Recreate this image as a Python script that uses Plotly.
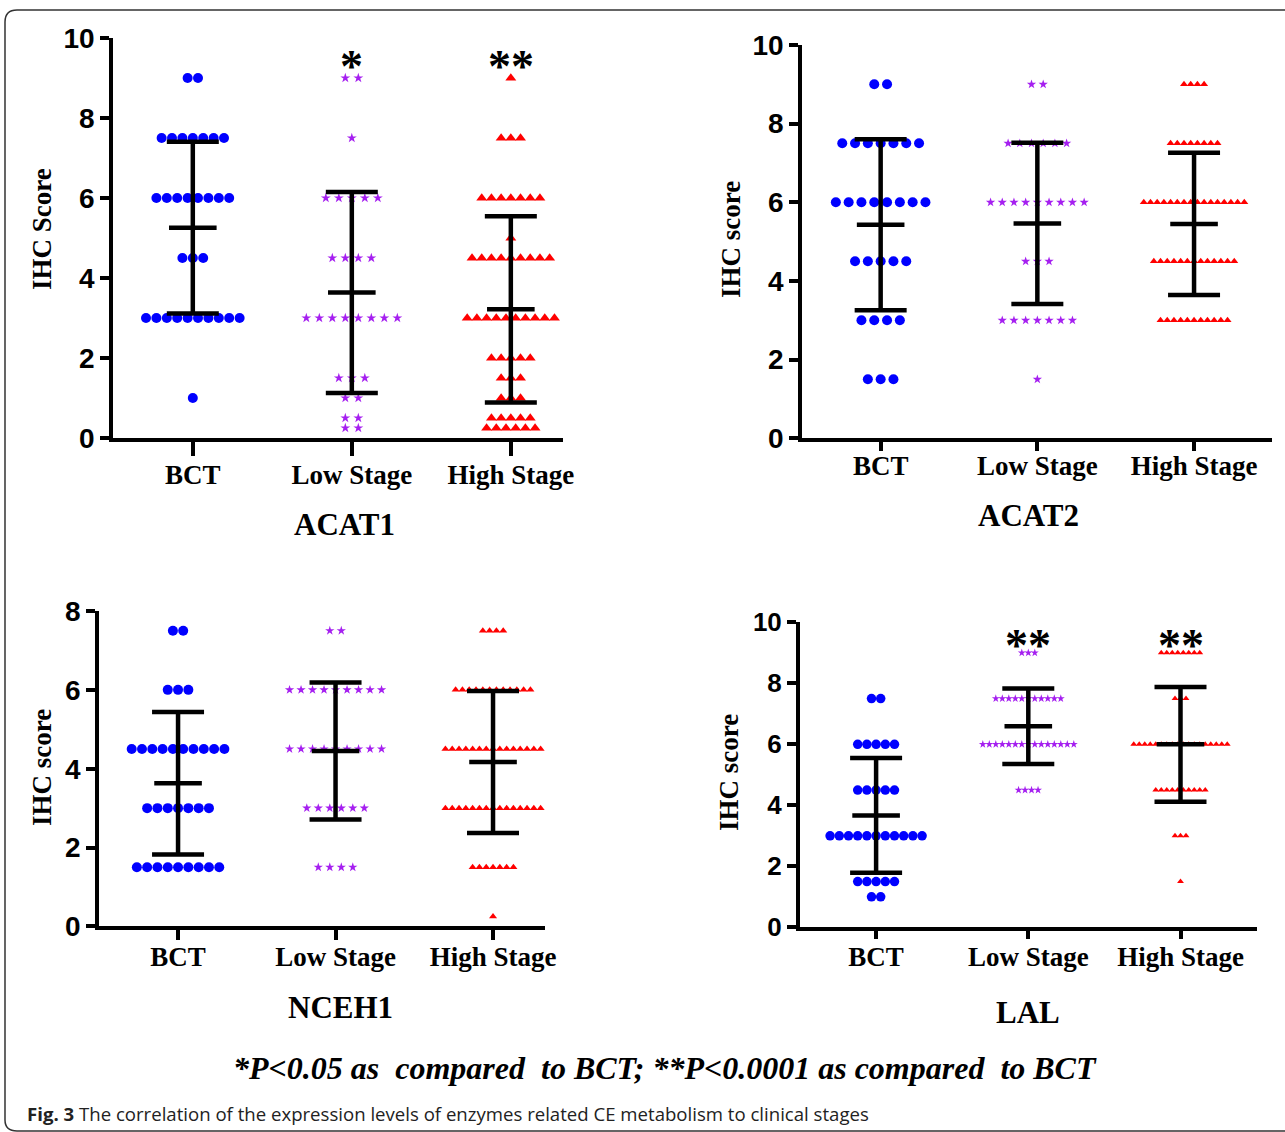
import numpy as np
import plotly.graph_objects as go

W, H = 1285, 1132
groups = ["BCT", "Low Stage", "High Stage"]

# IHC score levels and the number of cases observed at each level
acat1_bct_levels = [9, 7.5, 6, 4.5, 3, 1]
acat1_bct_counts = [2, 7, 8, 3, 10, 1]
acat1_low_levels = [9, 7.5, 6, 4.5, 3, 1.5, 1, 0.5, 0.25]
acat1_low_counts = [2, 1, 5, 4, 8, 3, 2, 2, 2]
acat1_high_levels = [9, 7.5, 6, 5, 4.5, 3, 2, 1.5, 1, 0.5, 0.25]
acat1_high_counts = [1, 3, 7, 1, 9, 10, 5, 3, 3, 5, 6]

acat2_bct_levels = [9, 7.5, 6, 4.5, 3, 1.5]
acat2_bct_counts = [2, 7, 8, 5, 4, 3]
acat2_low_levels = [9, 7.5, 6, 4.5, 3, 1.5]
acat2_low_counts = [2, 6, 9, 3, 7, 1]
acat2_high_levels = [9, 7.5, 6, 4.5, 3]
acat2_high_counts = [4, 8, 16, 13, 11]

nceh1_bct_levels = [7.5, 6, 4.5, 3, 1.5]
nceh1_bct_counts = [2, 3, 10, 7, 9]
nceh1_low_levels = [7.5, 6, 4.5, 3, 1.5]
nceh1_low_counts = [2, 9, 9, 6, 4]
nceh1_high_levels = [7.5, 6, 4.5, 3, 1.5, 0.25]
nceh1_high_counts = [4, 12, 15, 15, 7, 1]

lal_bct_levels = [7.5, 6, 4.5, 3, 1.5, 1]
lal_bct_counts = [2, 5, 5, 11, 5, 2]
lal_low_levels = [9, 7.5, 6, 4.5]
lal_low_counts = [3, 11, 15, 4]
lal_high_levels = [9, 7.5, 6, 4.5, 3, 1.5]
lal_high_counts = [8, 3, 18, 10, 3, 1]

acat1_marks = ["", "*", "**"]
acat2_marks = ["", "", ""]
nceh1_marks = ["", "", ""]
lal_marks = ["", "**", "**"]

footnote = "*P&lt;0.05 as\u00a0 compared\u00a0 to BCT; **P&lt;0.0001 as compared\u00a0 to BCT"
caption_bold = "Fig. 3"
caption_text = "The correlation of the expression levels of enzymes related CE metabolism to clinical stages"

BLUE, PURPLE, RED = "#0000FF", "#A51FF0", "#FF0000"
symbols = ["circle", "star", "triangle-up"]
colors = [BLUE, PURPLE, RED]

panels = [
    dict(name="ACAT1", data=[(acat1_bct_levels, acat1_bct_counts), (acat1_low_levels, acat1_low_counts),
                             (acat1_high_levels, acat1_high_counts)],
         marks=acat1_marks, xpx=(113.3, 563.3), ypx=(38, 438), xr=(-0.5, 2.33), yr=(0, 10),
         yticks=[0, 2, 4, 6, 8, 10], step=(10.4, 13.0, 9.7), msize=(10, 7.5, 9.5), tickfs=28,
         ylabel="IHC Score", ylabpos=(42, 229), title_pos=(344, 524), xticklen=14, cat_standoff=-4,
         star_y=67),
    dict(name="ACAT2", data=[(acat2_bct_levels, acat2_bct_counts), (acat2_low_levels, acat2_low_counts),
                             (acat2_high_levels, acat2_high_counts)],
         marks=acat2_marks, xpx=(802.3, 1272.4), ypx=(45, 438.3), xr=(-0.5, 2.5), yr=(0, 10),
         yticks=[0, 2, 4, 6, 8, 10], step=(12.8, 11.7, 6.7), msize=(10, 7, 7), tickfs=28,
         ylabel="IHC score", ylabpos=(731, 240), title_pos=(1028, 515), xticklen=9, cat_standoff=-9,
         star_y=None),
    dict(name="NCEH1", data=[(nceh1_bct_levels, nceh1_bct_counts), (nceh1_low_levels, nceh1_low_counts),
                             (nceh1_high_levels, nceh1_high_counts)],
         marks=nceh1_marks, xpx=(99.3, 545), ypx=(611, 926.4), xr=(-0.5, 2.33), yr=(0, 8),
         yticks=[0, 2, 4, 6, 8], step=(10.3, 11.5, 6.8), msize=(10, 7, 7), tickfs=28,
         ylabel="IHC score", ylabpos=(42, 768), title_pos=(340, 1007), xticklen=10, cat_standoff=-7,
         star_y=None),
    dict(name="LAL", data=[(lal_bct_levels, lal_bct_counts), (lal_low_levels, lal_low_counts),
                           (lal_high_levels, lal_high_counts)],
         marks=lal_marks, xpx=(800, 1256.6), ypx=(622.3, 927.3), xr=(-0.5, 2.5), yr=(0, 10),
         yticks=[0, 2, 4, 6, 8, 10], step=(9.2, 6.5, 5.5), msize=(9.5, 6, 6), tickfs=26,
         ylabel="IHC score", ylabpos=(729, 773), title_pos=(1028, 1012), xticklen=8, cat_standoff=-6,
         star_y=645),
]

SERIF = "Liberation Serif"
SANS = "Liberation Sans"

fig = go.Figure()
layout = dict(width=W, height=H, margin=dict(l=0, r=0, t=0, b=0, autoexpand=False),
              paper_bgcolor="white", plot_bgcolor="white", showlegend=False, template="none")
annotations = []

for i, p in enumerate(panels):
    k = "" if i == 0 else str(i + 1)
    xa, ya = "x" + k, "y" + k
    x0, x1 = p["xpx"]
    cat_px = (x1 - x0) / (p["xr"][1] - p["xr"][0])
    for g, (levels, counts) in enumerate(p["data"]):
        xs, ys = [], []
        for lv, n in zip(levels, counts):
            offs = (np.arange(n) - (n - 1) / 2) * p["step"][g] / cat_px
            xs.extend(list(g + offs))
            ys.extend([lv] * n)
        fig.add_trace(go.Scatter(x=xs, y=ys, mode="markers", xaxis=xa, yaxis=ya,
                                 marker=dict(symbol=symbols[g], size=p["msize"][g], color=colors[g],
                                             line=dict(width=0)),
                                 cliponaxis=False, hoverinfo="skip"))
    # mean +/- SD
    means, sds = [], []
    for levels, counts in p["data"]:
        vals = np.repeat(levels, counts)
        means.append(vals.mean())
        sds.append(vals.std(ddof=1))
    fig.add_trace(go.Scatter(x=[0, 1, 2], y=means, mode="markers", xaxis=xa, yaxis=ya,
                             marker=dict(symbol="line-ew", size=34, color="black",
                                         line=dict(width=4.5, color="black")),
                             error_y=dict(type="data", array=sds, symmetric=True, color="black",
                                          thickness=4.5, width=26),
                             cliponaxis=False, hoverinfo="skip"))
    y0, y1 = p["ypx"]
    layout["xaxis" + k] = dict(domain=[x0 / W, x1 / W], range=list(p["xr"]), anchor=ya,
                               automargin=False,
                               tickmode="array", tickvals=[0, 1, 2], ticktext=groups,
                               showline=True, linewidth=4, linecolor="black", ticks="outside",
                               ticklen=p["xticklen"], tickwidth=3.5, tickcolor="black", showgrid=False,
                               zeroline=False, ticklabelstandoff=p["cat_standoff"],
                               tickfont=dict(family=SERIF, size=27, color="black", weight="bold"))
    layout["yaxis" + k] = dict(domain=[1 - y1 / H, 1 - y0 / H], range=list(p["yr"]), anchor=xa,
                               automargin=False,
                               tickmode="array", tickvals=p["yticks"], showline=True, linewidth=4,
                               linecolor="black", ticks="outside", ticklen=9, tickwidth=3.5,
                               tickcolor="black", showgrid=False, zeroline=False,
                               tickfont=dict(family=SANS, size=p["tickfs"], color="black", weight="bold"))
    lx, ly = p["ylabpos"]
    annotations.append(dict(text="<b>%s</b>" % p["ylabel"], x=lx / W, y=1 - ly / H, xref="paper",
                            yref="paper", showarrow=False, textangle=-90,
                            font=dict(family=SERIF, size=27, color="black"),
                            xanchor="center", yanchor="middle"))
    tx, ty = p["title_pos"]
    annotations.append(dict(text="<b>%s</b>" % p["name"], x=tx / W, y=1 - ty / H, xref="paper",
                            yref="paper", showarrow=False, font=dict(family=SERIF, size=31, color="black"),
                            xanchor="center", yanchor="middle"))
    for g, m in enumerate(p["marks"]):
        if m:
            annotations.append(dict(text="<b>%s</b>" % m, x=g, xref=xa, y=1 - p["star_y"] / H,
                                    yref="paper", showarrow=False,
                                    font=dict(family=SERIF, size=46, color="black"),
                                    xanchor="center", yanchor="middle"))

annotations.append(dict(text="<b><i>%s</i></b>" % footnote, x=665 / W, y=1 - 1068 / H,
                        xref="paper", yref="paper", showarrow=False,
                        font=dict(family=SERIF, size=32, color="black"), xanchor="center", yanchor="middle"))
annotations.append(dict(text="<b>%s</b> %s" % (caption_bold, caption_text), x=25 / W, y=1 - 1113 / H,
                        xref="paper", yref="paper", showarrow=False,
                        font=dict(family="Open Sans", size=18.6, color="#222"), xanchor="left",
                        yanchor="middle"))


def P(x, y):
    return "%.5f,%.5f" % (x / W, 1 - y / H)


frame = ("M " + P(1295, 10) + " L " + P(17, 10) + " Q " + P(5, 10) + " " + P(5, 22) +
         " L " + P(5, 1120) + " Q " + P(5, 1131) + " " + P(17, 1131) + " L " + P(1295, 1131))
layout["shapes"] = [dict(type="path", path=frame, xref="paper", yref="paper",
                         line=dict(color="#333", width=1.5))]
layout["annotations"] = annotations
fig.update_layout(**layout)

post = ("document.documentElement.style.margin='0';document.documentElement.style.overflow='hidden';"
        "document.body.style.margin='0';document.body.style.padding='0';document.body.style.overflow='hidden';"
        "var gd=document.getElementById('{plot_id}');gd.style.position='absolute';"
        "gd.style.left='0px';gd.style.top='0px';")
fig.write_html("out.html", post_script=post, config={"displayModeBar": False})
